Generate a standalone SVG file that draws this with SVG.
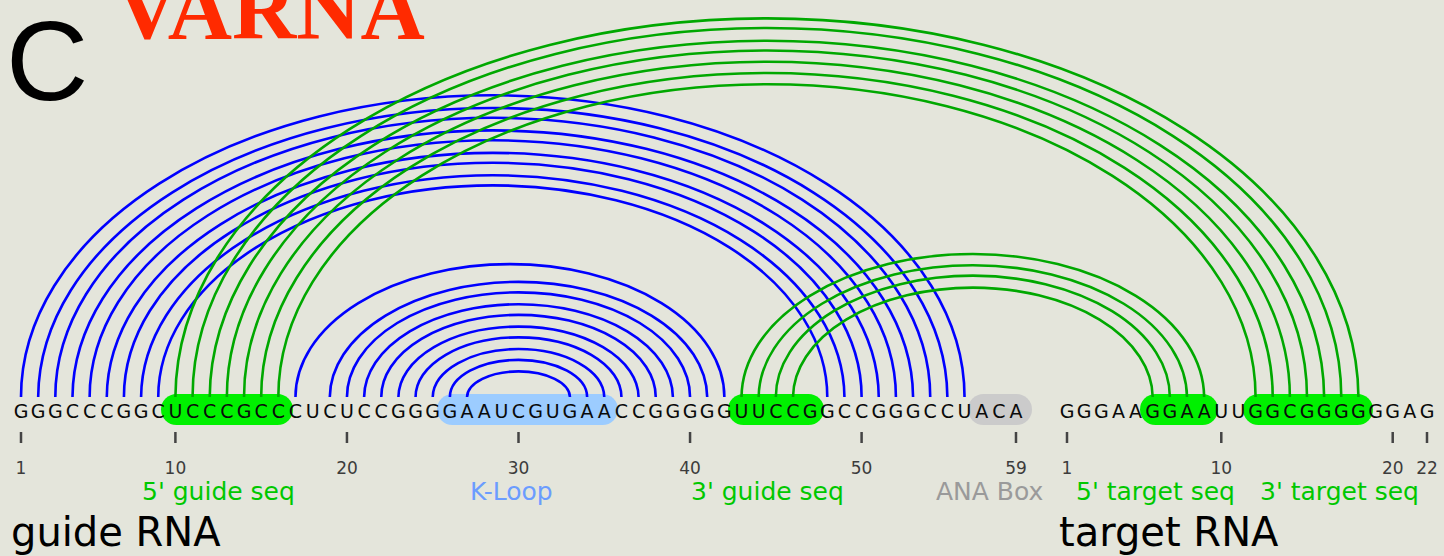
<svg xmlns="http://www.w3.org/2000/svg" width="1444" height="556" viewBox="0 0 1444 556">
<style>
.nt{font-family:"DejaVu Sans",Verdana,sans-serif;font-size:19px;fill:#0a0a0a;text-anchor:middle}
.num{font-family:"DejaVu Sans",Verdana,sans-serif;font-size:17px;fill:#3c3c3c;text-anchor:middle}
.lbl{font-family:"DejaVu Sans",Verdana,sans-serif;font-size:25px}
.big{font-family:"DejaVu Sans",Verdana,sans-serif;font-size:40px;fill:#000}
.tick{stroke:#444;stroke-width:2.5}
.b{fill:none;stroke:#0000ff;stroke-width:2.6}
.g{fill:none;stroke:#00a800;stroke-width:2.6}
.hlg{fill:#00f000}
.hlb{fill:#9cccff}
.hla{fill:#cbcbcb}
</style>
<rect width="1444" height="556" fill="#e4e5db"/>
<text x="6" y="100" font-family="Liberation Sans, Arial, sans-serif" font-size="114" fill="#000">C</text>
<text x="115" y="38" font-family="Liberation Serif, Times New Roman, serif" font-size="89" font-weight="bold" fill="#ff2a00">VARNA</text>

<g id="highlights">
<rect id="hl-guide5" class="hlg" x="161" y="394" width="132" height="31" rx="15.5"/>
<rect id="hl-kloop" class="hlb" x="437" y="394" width="181" height="31" rx="15.5"/>
<rect id="hl-guide3" class="hlg" x="728" y="394" width="96" height="31" rx="15.5"/>
<rect id="hl-ana" class="hla" x="968" y="394" width="64" height="31" rx="15.5"/>
<rect id="hl-target5" class="hlg" x="1140" y="394" width="78" height="31" rx="15.5"/>
<rect id="hl-target3" class="hlg" x="1243" y="394" width="130" height="31" rx="15.5"/>
</g>

<g id="connectors">
<path class="b" d="M21 397A471.76 301.7 0 0 1 964.53 397"/>
<path class="b" d="M38.16 397A454.61 290.4 0 0 1 947.37 397"/>
<path class="b" d="M55.31 397A437.45 279.2 0 0 1 930.22 397"/>
<path class="b" d="M72.47 397A420.3 267.9 0 0 1 913.06 397"/>
<path class="b" d="M89.62 397A403.14 256.7 0 0 1 895.91 397"/>
<path class="b" d="M106.78 397A385.99 245.4 0 0 1 878.75 397"/>
<path class="b" d="M123.93 397A368.83 234.2 0 0 1 861.6 397"/>
<path class="b" d="M141.09 397A351.68 222.9 0 0 1 844.44 397"/>
<path class="b" d="M158.24 397A334.52 211.6 0 0 1 827.29 397"/>
<path class="b" d="M295.48 397A214.44 132.9 0 0 1 724.36 397"/>
<path class="b" d="M329.79 397A188.71 116 0 0 1 707.2 397"/>
<path class="b" d="M346.95 397A171.55 104.7 0 0 1 690.05 397"/>
<path class="b" d="M364.1 397A154.4 93.5 0 0 1 672.89 397"/>
<path class="b" d="M381.26 397A137.24 82.2 0 0 1 655.74 397"/>
<path class="b" d="M398.41 397A120.09 71 0 0 1 638.58 397"/>
<path class="b" d="M415.57 397A102.93 59.7 0 0 1 621.43 397"/>
<path class="b" d="M432.72 397A85.78 48.5 0 0 1 604.27 397"/>
<path class="b" d="M449.88 397A68.62 37.2 0 0 1 587.12 397"/>
<path class="b" d="M467.03 397A51.47 26 0 0 1 569.96 397"/>
<path class="g" d="M175.4 397A591.52 380.2 0 0 1 1358.43 397"/>
<path class="g" d="M192.55 397A574.37 369 0 0 1 1341.29 397"/>
<path class="g" d="M209.71 397A557.22 357.7 0 0 1 1324.14 397"/>
<path class="g" d="M226.86 397A540.07 346.5 0 0 1 1307 397"/>
<path class="g" d="M244.02 397A522.92 335.2 0 0 1 1289.86 397"/>
<path class="g" d="M261.17 397A505.77 324 0 0 1 1272.71 397"/>
<path class="g" d="M278.33 397A488.62 312.7 0 0 1 1255.57 397"/>
<path class="g" d="M741.51 397A231.32 143.9 0 0 1 1204.14 397"/>
<path class="g" d="M758.67 397A214.17 132.7 0 0 1 1187 397"/>
<path class="g" d="M775.82 397A197.02 121.4 0 0 1 1169.86 397"/>
<path class="g" d="M792.98 397A179.87 110.2 0 0 1 1152.71 397"/>
</g>

<g id="guide-rna">
<text class="nt" y="417.5"><tspan x="21">G</tspan><tspan x="38.16">G</tspan><tspan x="55.31">G</tspan><tspan x="72.47">C</tspan><tspan x="89.62">C</tspan><tspan x="106.78">C</tspan><tspan x="123.93">G</tspan><tspan x="141.09">G</tspan><tspan x="158.24">C</tspan><tspan x="175.4">U</tspan><tspan x="192.55">C</tspan><tspan x="209.71">C</tspan><tspan x="226.86">C</tspan><tspan x="244.02">G</tspan><tspan x="261.17">C</tspan><tspan x="278.33">C</tspan><tspan x="295.48">C</tspan><tspan x="312.64">U</tspan><tspan x="329.79">C</tspan><tspan x="346.95">U</tspan><tspan x="364.1">C</tspan><tspan x="381.26">C</tspan><tspan x="398.41">G</tspan><tspan x="415.57">G</tspan><tspan x="432.72">G</tspan><tspan x="449.88">G</tspan><tspan x="467.03">A</tspan><tspan x="484.19">A</tspan><tspan x="501.34">U</tspan><tspan x="518.5">C</tspan><tspan x="535.65">G</tspan><tspan x="552.81">U</tspan><tspan x="569.96">G</tspan><tspan x="587.12">A</tspan><tspan x="604.27">A</tspan><tspan x="621.43">C</tspan><tspan x="638.58">C</tspan><tspan x="655.74">G</tspan><tspan x="672.89">G</tspan><tspan x="690.05">G</tspan><tspan x="707.2">G</tspan><tspan x="724.36">G</tspan><tspan x="741.51">U</tspan><tspan x="758.67">U</tspan><tspan x="775.82">C</tspan><tspan x="792.98">C</tspan><tspan x="810.13">G</tspan><tspan x="827.29">G</tspan><tspan x="844.44">C</tspan><tspan x="861.6">C</tspan><tspan x="878.75">G</tspan><tspan x="895.91">G</tspan><tspan x="913.06">G</tspan><tspan x="930.22">C</tspan><tspan x="947.37">C</tspan><tspan x="964.53">U</tspan><tspan x="981.68">A</tspan><tspan x="998.84">C</tspan><tspan x="1015.99">A</tspan></text>
<path class="tick" d="M21 432V443M175.4 432V443M346.95 432V443M518.5 432V443M690.05 432V443M861.6 432V443M1015.99 432V443"/>
<text class="num" y="474"><tspan x="21">1</tspan><tspan x="175.4">10</tspan><tspan x="346.95">20</tspan><tspan x="518.5">30</tspan><tspan x="690.05">40</tspan><tspan x="861.6">50</tspan><tspan x="1015.99">59</tspan></text>
<text class="big" x="11" y="546">guide RNA</text>
</g>

<g id="target-rna">
<text class="nt" y="417.5"><tspan x="1067">G</tspan><tspan x="1084.14">G</tspan><tspan x="1101.29">G</tspan><tspan x="1118.43">A</tspan><tspan x="1135.57">A</tspan><tspan x="1152.71">G</tspan><tspan x="1169.86">G</tspan><tspan x="1187">A</tspan><tspan x="1204.14">A</tspan><tspan x="1221.29">U</tspan><tspan x="1238.43">U</tspan><tspan x="1255.57">G</tspan><tspan x="1272.71">G</tspan><tspan x="1289.86">C</tspan><tspan x="1307">G</tspan><tspan x="1324.14">G</tspan><tspan x="1341.29">G</tspan><tspan x="1358.43">G</tspan><tspan x="1375.57">G</tspan><tspan x="1392.71">G</tspan><tspan x="1409.86">A</tspan><tspan x="1427">G</tspan></text>
<path class="tick" d="M1067 432V443M1221.29 432V443M1392.71 432V443M1427 432V443"/>
<text class="num" y="474"><tspan x="1067">1</tspan><tspan x="1221.29">10</tspan><tspan x="1392.71">20</tspan><tspan x="1427">22</tspan></text>
<text class="big" x="1059" y="546">target RNA</text>
</g>

<g id="region-labels">
<text id="lbl-guide5" class="lbl" x="142" y="500" fill="#00c800">5' guide seq</text>
<text id="lbl-kloop" class="lbl" x="470" y="500" fill="#6b9cff">K-Loop</text>
<text id="lbl-guide3" class="lbl" x="691" y="500" fill="#00c800">3' guide seq</text>
<text id="lbl-ana" class="lbl" x="936" y="500" fill="#9a9a9a">ANA Box</text>
<text id="lbl-target5" class="lbl" x="1076" y="500" fill="#00c800">5' target seq</text>
<text id="lbl-target3" class="lbl" x="1260" y="500" fill="#00c800">3' target seq</text>
</g>
</svg>
